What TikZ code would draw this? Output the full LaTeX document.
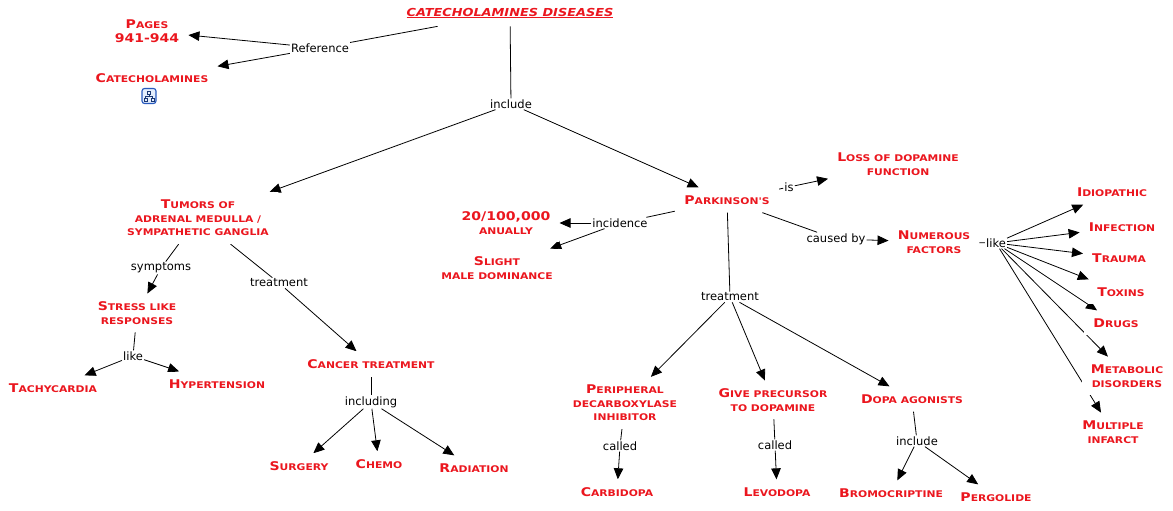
\documentclass[tikz,border=0pt]{standalone}
\usepackage{fontspec}
\usepackage{tikz}
\usetikzlibrary{arrows.meta,positioning}
\setmainfont{DejaVu Sans}
\newfontfamily\conceptfont[FakeStretch=1.17]{DejaVu Sans}
\definecolor{concept-red}{RGB}{235,22,30}
\definecolor{icon-blue}{RGB}{40,90,190}
\definecolor{icon-fill}{RGB}{228,238,252}
\newcommand\ini[1]{{\fontsize{12pt}{13.5pt}\selectfont #1}}
\pgfdeclarelayer{links}
\pgfsetlayers{links,main}
\tikzset{
    concept/.style = {text=concept-red, fill=white, inner xsep=9pt, inner ysep=8pt, align=center, font=\conceptfont\bfseries\fontsize{9.2pt}{13.5pt}\selectfont},
    map-title/.style = {concept, font=\conceptfont\bfseries\itshape\fontsize{11pt}{13pt}\selectfont},
    phrase/.style = {text=black, inner sep=1pt, font=\fontsize{11.5pt}{13pt}\selectfont},
    plain-link/.style = {draw=black, line width=0.8pt},
    arrow-link/.style = {plain-link, -{Triangle[length=11pt,width=9.5pt]}},
    map-icon/.style = {draw=icon-blue, fill=icon-fill, rounded corners=2.5pt, line width=1.1pt, minimum width=14pt, minimum height=15pt, inner sep=0pt},
    icon-tree/.style = {draw=icon-blue!60!black, line width=0.7pt},
}

\begin{document}
\begin{tikzpicture}[x=1pt,y=-1pt]
\useasboundingbox (0,0) rectangle (1173,511);

% top of the map
\node [map-title] (title) at (510,13) {\underline{CATECHOLAMINES DISEASES}};
\node [phrase] (reference) at (320,48) {Reference};
\node [concept] (pages) at (147,31) {\ini{P}AGES\\\ini{941-944}};
\node [concept] (cat) at (152,78) {\ini{C}ATECHOLAMINES};
\node [map-icon] (cat-icon) at (149,96) {};
\begin{scope}[shift={(cat-icon.center)}, icon-tree]
    \draw (-1.5,-5) rectangle (1.5,-2);
    \draw (0,-2) -- (0,0) (-3.5,0) -- (3.5,0) (-3.5,0) -- (-3.5,2) (3.5,0) -- (3.5,2);
    \draw (-5,2) rectangle (-2,5) (2,2) rectangle (5,5);
\end{scope}
\node [phrase] (include-main) at (511,104) {include};

% tumors branch
\node [concept] (tumors) at (198,218) {\ini{T}UMORS OF\\ADRENAL MEDULLA /\\SYMPATHETIC GANGLIA};
\node [phrase] (symptoms) at (161,268) {symptoms};
\node [concept] (stress) at (137,313) {\ini{S}TRESS LIKE\\RESPONSES};
\node [phrase] (like-stress) at (133,356) {like};
\node [concept] (tachy) at (53,388) {\ini{T}ACHYCARDIA};
\node [concept] (hyper) at (217,384) {\ini{H}YPERTENSION};
\node [phrase] (treat-tumors) at (279,283) {treatment};
\node [concept] (cancer) at (371,364) {\ini{C}ANCER TREATMENT};
\node [phrase] (including) at (371,402) {including};
\node [concept] (surgery) at (299,466) {\ini{S}URGERY};
\node [concept] (chemo) at (379,464) {\ini{C}HEMO};
\node [concept] (radiation) at (474,468) {\ini{R}ADIATION};

% parkinson's branch
\node [concept] (parkinsons) at (727,200) {\ini{P}ARKINSON'S};
\node [phrase] (incidence) at (620,223) {incidence};
\node [concept] (rate) at (506,223) {\ini{20/100,000}\\ANUALLY};
\node [concept] (male) at (497,268) {\ini{S}LIGHT\\MALE DOMINANCE};
\node [phrase] (is) at (789,187) {is};
\node [concept] (loss) at (898,164) {\ini{L}OSS OF DOPAMINE\\FUNCTION};
\node [phrase] (caused-by) at (836,239) {caused by};
\node [concept] (factors) at (934,242) {\ini{N}UMEROUS\\FACTORS};
\node [phrase] (like-factors) at (996,243) {like};
\node [concept] (idiopathic) at (1112,192) {\ini{I}DIOPATHIC};
\node [concept] (infection) at (1122,227) {\ini{I}NFECTION};
\node [concept] (trauma) at (1119,258) {\ini{T}RAUMA};
\node [concept] (toxins) at (1121,292) {\ini{T}OXINS};
\node [concept] (drugs) at (1116,323) {\ini{D}RUGS};
\node [concept] (metabolic) at (1127,376) {\ini{M}ETABOLIC\\DISORDERS};
\node [concept] (multiple) at (1113,432) {\ini{M}ULTIPLE\\INFARCT};
\node [phrase] (treat-park) at (730,297) {treatment};
\node [concept] (peripheral) at (625,403) {\ini{P}ERIPHERAL\\DECARBOXYLASE\\INHIBITOR};
\node [phrase] (called-carbi) at (620,446) {called};
\node [concept] (carbidopa) at (617,492) {\ini{C}ARBIDOPA};
\node [concept] (precursor) at (773,400) {\ini{G}IVE PRECURSOR\\TO DOPAMINE};
\node [phrase] (called-levo) at (775,445) {called};
\node [concept] (levodopa) at (777,492) {\ini{L}EVODOPA};
\node [concept] (agonists) at (912,399) {\ini{D}OPA AGONISTS};
\node [phrase] (include-dopa) at (917,441) {include};
\node [concept] (bromo) at (891,493) {\ini{B}ROMOCRIPTINE};
\node [concept] (pergolide) at (996,497) {\ini{P}ERGOLIDE};

% links, under the concept boxes
\begin{pgfonlayer}{links}
\draw [plain-link] (title) -- (reference);
\draw [arrow-link] (reference) -- (pages);
\draw [arrow-link] (reference) -- (cat);
\draw [plain-link] (title) -- (include-main);
\draw [arrow-link] (include-main) -- (tumors);
\draw [arrow-link] (include-main) -- (parkinsons);

\draw [plain-link] (tumors) -- (symptoms);
\draw [arrow-link] (symptoms) -- (stress);
\draw [plain-link] (stress) -- (like-stress);
\draw [arrow-link] (like-stress) -- (tachy);
\draw [arrow-link] (like-stress) -- (hyper);
\draw [plain-link] (tumors) -- (treat-tumors);
\draw [arrow-link] (treat-tumors) -- (cancer);
\draw [plain-link] (cancer) -- (including);
\foreach \n in {surgery,chemo,radiation}
    \draw [arrow-link] (including) -- (\n);

\draw [plain-link] (parkinsons) -- (incidence);
\draw [arrow-link] (incidence) -- (rate);
\draw [arrow-link] (incidence) -- (male);
\draw [plain-link] (parkinsons) -- (is);
\draw [arrow-link] (is) -- (loss);
\draw [plain-link] (parkinsons) -- (caused-by);
\draw [arrow-link] (caused-by) -- (factors);
\draw [plain-link] (factors) -- (like-factors);
\foreach \n in {idiopathic,infection,trauma,toxins,drugs,metabolic,multiple}
    \draw [arrow-link] (like-factors) -- (\n);
\draw [plain-link] (parkinsons) -- (treat-park);
\foreach \n in {peripheral,precursor,agonists}
    \draw [arrow-link] (treat-park) -- (\n);
\draw [plain-link] (peripheral) -- (called-carbi);
\draw [arrow-link] (called-carbi) -- (carbidopa);
\draw [plain-link] (precursor) -- (called-levo);
\draw [arrow-link] (called-levo) -- (levodopa);
\draw [plain-link] (agonists) -- (include-dopa);
\draw [arrow-link] (include-dopa) -- (bromo);
\draw [arrow-link] (include-dopa) -- (pergolide);
\end{pgfonlayer}
\end{tikzpicture}
\end{document}
